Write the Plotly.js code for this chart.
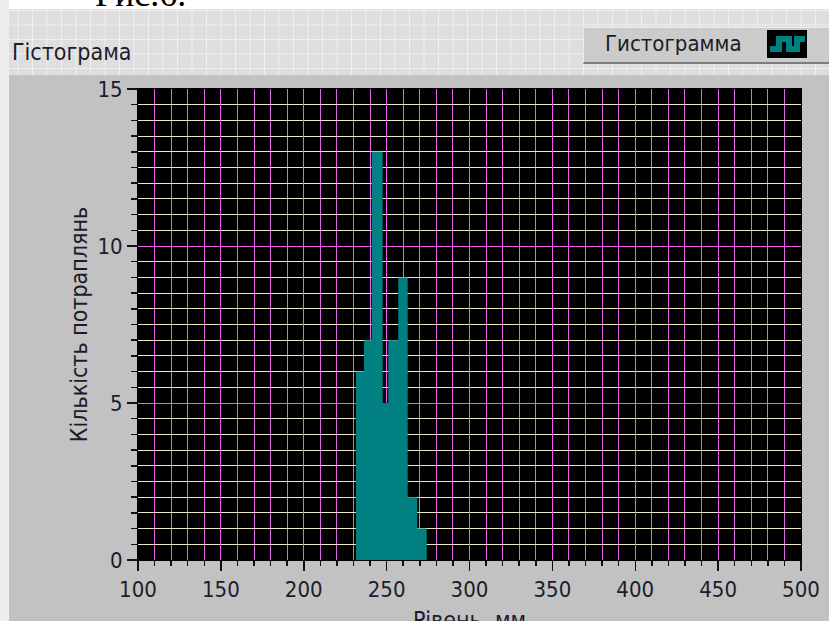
<!DOCTYPE html>
<html>
<head>
<meta charset="utf-8">
<script src="https://cdn.plot.ly/plotly-3.0.1.min.js"></script>
<style>
  html, body { margin: 0; padding: 0; background: #ffffff; }
  #wrap { position: relative; width: 829px; height: 621px; overflow: hidden; background: #c2c2c2; }
  .abs { position: absolute; }
  #toppanel { left: 0; top: 0; width: 829px; height: 75px; background-color: #dedede;
    background-image: linear-gradient(to right, #f0f0f0 1px, transparent 1px),
                      linear-gradient(to bottom, #f0f0f0 1px, transparent 1px);
    background-size: 14.5px 14.5px; background-position: 3px 10px; }
  #whitestrip { left: 0; top: 0; width: 829px; height: 9px; background: #ffffff; overflow: hidden; }
  #leftstrip { left: 0; top: 0; width: 9px; height: 621px; background: #eeeeee; }
  #fig { left: 0; top: 0; width: 829px; height: 650px; }
  .lbl { font-family: "Liberation Sans Narrow", "DejaVu Sans Condensed", "Arial Narrow", sans-serif; color: #1c1c2c; white-space: nowrap; }
  #legendbox { left: 583px; top: 27px; width: 250px; height: 34px; background: #cbcbcb;
    border-top: 1px solid #ececec; border-left: 1px solid #ececec; border-bottom: 2px solid #7c7c7c; }
</style>
</head>
<body>
<div id="wrap">
  <div id="toppanel" class="abs"></div>
  <div id="whitestrip" class="abs"><div style="position:absolute;left:95px;top:-27px;font-family:'Liberation Serif',serif;font-size:36px;color:#000;">Рис.6.</div></div>
  <div id="leftstrip" class="abs"></div>
  <div id="fig" class="abs"></div>
  <div class="abs lbl" style="left:12px;top:39px;font-size:23px;">Гістограма</div>
  <div id="legendbox" class="abs"></div>
  <div class="abs lbl" style="left:605px;top:31px;font-size:22px;">Гистограмма</div>
  <svg class="abs" style="left:767px;top:30px;" width="40" height="28" viewBox="0 0 40 28">
    <rect x="0" y="0" width="40" height="28" fill="#000"/>
    <polyline points="3,19 12,19 12,9 22,9 22,19 30,19 30,9 38,9" fill="none" stroke="#008080" stroke-width="6" stroke-linejoin="miter"/>
  </svg>
</div>
<script>
// Histogram data
const binEdges = [231.5, 236.3, 241.0, 247.6, 251.0, 257.0, 262.7, 268.5, 274.2];
const counts   = [6, 7, 13, 5, 7, 9, 2, 1];

const xTitle = "Рівень, мм";
const yTitle = "Кількість потраплянь";
const seriesName = "Гистограмма";

const stepY = counts.concat([counts[counts.length - 1]]);

const FONT = '"Liberation Sans Narrow", "DejaVu Sans Condensed", "Arial Narrow", sans-serif';
const PINK = '#ee5fee';
const CREAM = '#e6eac6';

const trace = {
  type: 'scatter',
  mode: 'lines',
  name: seriesName,
  x: binEdges,
  y: stepY,
  line: { shape: 'hv', width: 0, color: '#008080' },
  fill: 'tozeroy',
  fillcolor: '#008080',
  hoverinfo: 'x+y'
};

const layout = {
  width: 829,
  height: 650,
  margin: { l: 138, r: 28, t: 89, b: 90, pad: 0 },
  paper_bgcolor: 'rgba(0,0,0,0)',
  plot_bgcolor: '#000000',
  showlegend: false,
  font: { family: FONT, size: 22, color: '#1c1c2c' },
  xaxis: {
    range: [100, 500],
    dtick: 50,
    tick0: 100,
    ticks: 'outside',
    ticklen: 10,
    tickwidth: 1.5,
    tickcolor: '#111',
    showgrid: true,
    gridcolor: PINK,
    gridwidth: 1,
    zeroline: false,
    showline: true,
    linecolor: '#000',
    linewidth: 1,
    mirror: true,
    tickfont: { family: FONT, size: 22, color: '#1c1c2c' },
    minor: { dtick: 10, ticks: 'outside', ticklen: 5, tickwidth: 1.5, tickcolor: '#111', showgrid: true, gridcolor: PINK, gridwidth: 1 },
    title: { text: xTitle, font: { family: FONT, size: 23, color: '#1c1c2c' }, standoff: 10 },
    automargin: false,
    fixedrange: true
  },
  yaxis: {
    range: [0, 15],
    dtick: 5,
    tick0: 0,
    ticks: 'outside',
    ticklen: 10,
    tickwidth: 1.5,
    tickcolor: '#111',
    showgrid: true,
    gridcolor: PINK,
    gridwidth: 1,
    zeroline: false,
    showline: true,
    linecolor: '#000',
    linewidth: 1,
    mirror: true,
    tickfont: { family: FONT, size: 22, color: '#1c1c2c' },
    minor: { dtick: 0.5, ticks: 'outside', ticklen: 6, tickwidth: 1.5, tickcolor: '#111', showgrid: true, gridcolor: CREAM, gridwidth: 1 },
    title: { text: yTitle, font: { family: FONT, size: 23, color: '#1c1c2c' }, standoff: 3 },
    automargin: false,
    fixedrange: true
  }
};

Plotly.newPlot('fig', [trace], layout, { displayModeBar: false, staticPlot: true });
</script>
</body>
</html>
